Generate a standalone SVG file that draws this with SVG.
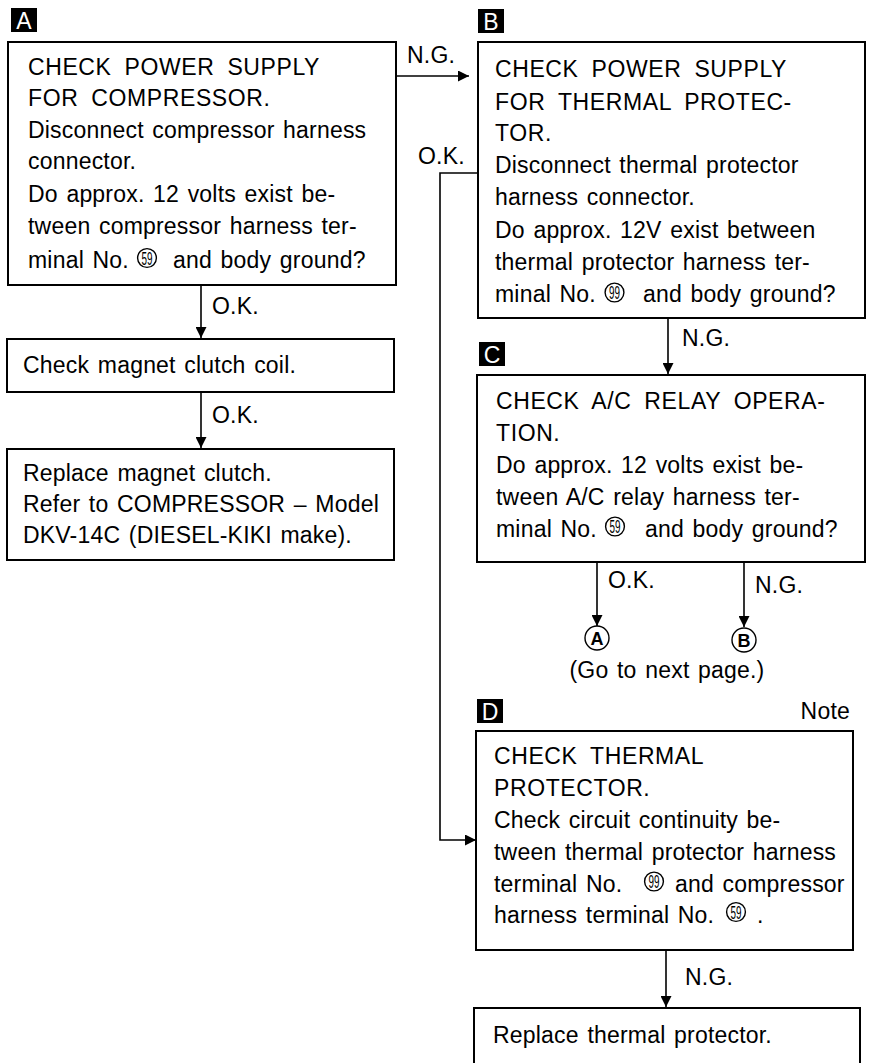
<svg xmlns="http://www.w3.org/2000/svg" width="872" height="1063" viewBox="0 0 872 1063">
  <style>
    .bg { fill: #ffffff; }
    .box { fill: #ffffff; stroke: #000; stroke-width: 2; }
    .ln { fill: none; stroke: #000; stroke-width: 1.6; }
    .t { font-family: "Liberation Sans", Arial, sans-serif; font-size: 23px; fill: #000; letter-spacing: 0.2px; word-spacing: 2px; }
    .h { letter-spacing: 0.6px; word-spacing: 6px; }
    .tagbox { fill: #000; }
    .tag { font-family: "Liberation Sans", Arial, sans-serif; font-size: 23px; fill: #fff; text-anchor: middle; }
    .ring { fill: #fff; stroke: #000; stroke-width: 1.4; }
    .num { font-family: "Liberation Sans", Arial, sans-serif; font-size: 18px; fill: #000; text-anchor: middle; }
    .ref { font-family: "Liberation Sans", Arial, sans-serif; font-size: 18px; font-weight: bold; fill: #000; text-anchor: middle; }
  </style>
  <defs>
    <marker id="arrow" viewBox="0 0 10 10" refX="10" refY="5" markerWidth="11" markerHeight="11" markerUnits="userSpaceOnUse" orient="auto">
      <path d="M0,0 L10,5 L0,10 z" fill="#000"/>
    </marker>
  </defs>

  <rect class="bg" x="0" y="0" width="872" height="1063"/>

  <!-- connectors -->
  <g id="connectors">
    <path class="ln" d="M396,76 H469" marker-end="url(#arrow)"/>
    <text class="t" x="407" y="63">N.G.</text>
    <path class="ln" d="M478,173 H440 V840 H476" marker-end="url(#arrow)"/>
    <text class="t" x="418" y="164">O.K.</text>
    <path class="ln" d="M201,285 V338" marker-end="url(#arrow)"/>
    <text class="t" x="212" y="314">O.K.</text>
    <path class="ln" d="M201,392 V448" marker-end="url(#arrow)"/>
    <text class="t" x="212" y="423">O.K.</text>
    <path class="ln" d="M668,318 V374" marker-end="url(#arrow)"/>
    <text class="t" x="682" y="346">N.G.</text>
    <path class="ln" d="M597,562 V626" marker-end="url(#arrow)"/>
    <text class="t" x="608" y="588">O.K.</text>
    <path class="ln" d="M744,562 V627" marker-end="url(#arrow)"/>
    <text class="t" x="755" y="593">N.G.</text>
    <path class="ln" d="M666,950 V1007" marker-end="url(#arrow)"/>
    <text class="t" x="685" y="985">N.G.</text>
  </g>

  <!-- A: power supply for compressor -->
  <g id="nodeA">
    <rect class="tagbox" x="11" y="8" width="26" height="24"/>
    <text class="tag" x="24" y="29">A</text>
    <rect class="box" x="8" y="42" width="388" height="243"/>
    <text class="t h" x="28" y="75">CHECK POWER SUPPLY</text>
    <text class="t h" x="28" y="106">FOR COMPRESSOR.</text>
    <text class="t" x="28" y="138">Disconnect compressor harness</text>
    <text class="t" x="28" y="169">connector.</text>
    <text class="t" x="28" y="202">Do approx. 12 volts exist be-</text>
    <text class="t" x="28" y="234">tween compressor harness ter-</text>
    <text class="t" x="28" y="268">minal No.</text>
    <circle class="ring" cx="147" cy="258" r="9.4"/>
    <text class="num" x="147" y="264.5" textLength="11" lengthAdjust="spacingAndGlyphs">59</text>
    <text class="t" x="173" y="268">and body ground?</text>
  </g>

  <!-- magnet clutch coil check -->
  <g id="nodeCoil">
    <rect class="box" x="7" y="339" width="387" height="53"/>
    <text class="t" x="23" y="373">Check magnet clutch coil.</text>
  </g>

  <!-- replace magnet clutch -->
  <g id="nodeClutch">
    <rect class="box" x="7" y="449" width="387" height="111"/>
    <text class="t" x="23" y="481">Replace magnet clutch.</text>
    <text class="t" x="23" y="512">Refer to COMPRESSOR – Model</text>
    <text class="t" x="23" y="543">DKV-14C (DIESEL-KIKI make).</text>
  </g>

  <!-- B: power supply for thermal protector -->
  <g id="nodeB">
    <rect class="tagbox" x="478" y="9" width="26" height="24"/>
    <text class="tag" x="491" y="30">B</text>
    <rect class="box" x="478" y="42" width="387" height="276"/>
    <text class="t h" x="495" y="77">CHECK POWER SUPPLY</text>
    <text class="t h" x="495" y="110">FOR THERMAL PROTEC-</text>
    <text class="t h" x="495" y="141">TOR.</text>
    <text class="t" x="495" y="173">Disconnect thermal protector</text>
    <text class="t" x="495" y="205">harness connector.</text>
    <text class="t" x="495" y="238">Do approx. 12V exist between</text>
    <text class="t" x="495" y="270">thermal protector harness ter-</text>
    <text class="t" x="495" y="302">minal No.</text>
    <circle class="ring" cx="614.5" cy="292.5" r="9.4"/>
    <text class="num" x="614.5" y="299" textLength="11" lengthAdjust="spacingAndGlyphs">99</text>
    <text class="t" x="643" y="302">and body ground?</text>
  </g>

  <!-- C: A/C relay operation -->
  <g id="nodeC">
    <rect class="tagbox" x="479" y="342" width="26" height="24"/>
    <text class="tag" x="492" y="363">C</text>
    <rect class="box" x="477" y="375" width="388" height="187"/>
    <text class="t h" x="496" y="409">CHECK A/C RELAY OPERA-</text>
    <text class="t h" x="496" y="441">TION.</text>
    <text class="t" x="496" y="473">Do approx. 12 volts exist be-</text>
    <text class="t" x="496" y="505">tween A/C relay harness ter-</text>
    <text class="t" x="496" y="537">minal No.</text>
    <circle class="ring" cx="615" cy="526.5" r="9.4"/>
    <text class="num" x="615" y="533" textLength="11" lengthAdjust="spacingAndGlyphs">59</text>
    <text class="t" x="645" y="537">and body ground?</text>
  </g>

  <!-- off-page references -->
  <g id="refA">
    <circle class="ring" cx="597" cy="638" r="12"/>
    <text class="ref" x="597" y="644.5">A</text>
  </g>
  <g id="refB">
    <circle class="ring" cx="744" cy="640" r="12"/>
    <text class="ref" x="744" y="646.5">B</text>
  </g>
  <text class="t" x="667" y="678" text-anchor="middle">(Go to next page.)</text>

  <!-- D: thermal protector -->
  <g id="nodeD">
    <rect class="tagbox" x="477" y="699" width="26" height="24"/>
    <text class="tag" x="490" y="720">D</text>
    <text class="t" x="850" y="719" text-anchor="end">Note</text>
    <rect class="box" x="476" y="731" width="377" height="219"/>
    <text class="t h" x="494" y="764">CHECK THERMAL</text>
    <text class="t h" x="494" y="796">PROTECTOR.</text>
    <text class="t" x="494" y="828">Check circuit continuity be-</text>
    <text class="t" x="494" y="860">tween thermal protector harness</text>
    <text class="t" x="494" y="892">terminal No.</text>
    <circle class="ring" cx="654" cy="881.5" r="9.4"/>
    <text class="num" x="654" y="888" textLength="11" lengthAdjust="spacingAndGlyphs">99</text>
    <text class="t" x="675" y="892">and compressor</text>
    <text class="t" x="494" y="923">harness terminal No.</text>
    <circle class="ring" cx="736" cy="912" r="9.4"/>
    <text class="num" x="736" y="918.5" textLength="11" lengthAdjust="spacingAndGlyphs">59</text>
    <text class="t" x="757" y="923">.</text>
  </g>

  <!-- replace thermal protector -->
  <g id="nodeReplace">
    <rect class="box" x="474" y="1008" width="386" height="70"/>
    <text class="t" x="493" y="1043">Replace thermal protector.</text>
  </g>
</svg>
